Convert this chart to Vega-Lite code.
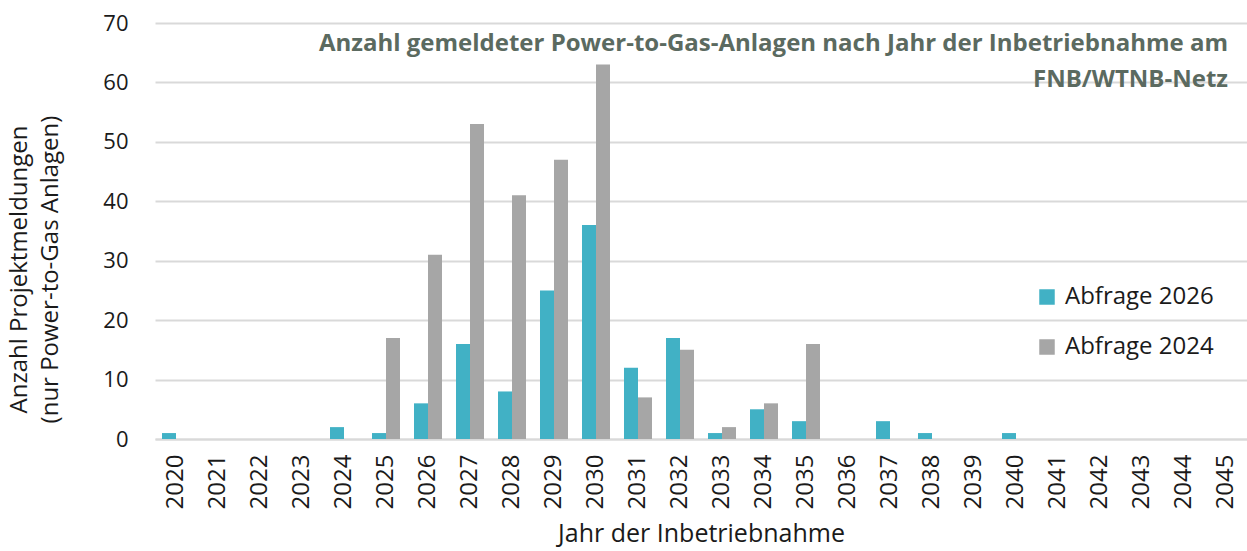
{
  "$schema": "https://vega.github.io/schema/vega-lite/v6.json",
  "width": 1092,
  "height": 416,
  "autosize": {"type": "none"},
  "padding": {"left": 155, "top": 23, "right": 0, "bottom": 112},
  "background": "white",
  "config": {
    "font": "Open Sans",
    "view": {"stroke": null}
  },
  "title": {
    "text": ["Anzahl gemeldeter Power-to-Gas-Anlagen nach Jahr der Inbetriebnahme am", "FNB/WTNB-Netz"],
    "orient": "top",
    "anchor": "end",
    "frame": "group",
    "align": "right",
    "baseline": "top",
    "offset": 0,
    "dy": 80,
    "dx": -19,
    "font": "Open Sans",
    "fontSize": 24,
    "fontWeight": "bold",
    "color": "#5b6a60",
    "lineHeight": 36
  },
  "data": {
    "values": [
      {"jahr": "2020", "serie": "Abfrage 2026", "anzahl": 1},
      {"jahr": "2020", "serie": "Abfrage 2024", "anzahl": 0},
      {"jahr": "2021", "serie": "Abfrage 2026", "anzahl": 0},
      {"jahr": "2021", "serie": "Abfrage 2024", "anzahl": 0},
      {"jahr": "2022", "serie": "Abfrage 2026", "anzahl": 0},
      {"jahr": "2022", "serie": "Abfrage 2024", "anzahl": 0},
      {"jahr": "2023", "serie": "Abfrage 2026", "anzahl": 0},
      {"jahr": "2023", "serie": "Abfrage 2024", "anzahl": 0},
      {"jahr": "2024", "serie": "Abfrage 2026", "anzahl": 2},
      {"jahr": "2024", "serie": "Abfrage 2024", "anzahl": 0},
      {"jahr": "2025", "serie": "Abfrage 2026", "anzahl": 1},
      {"jahr": "2025", "serie": "Abfrage 2024", "anzahl": 17},
      {"jahr": "2026", "serie": "Abfrage 2026", "anzahl": 6},
      {"jahr": "2026", "serie": "Abfrage 2024", "anzahl": 31},
      {"jahr": "2027", "serie": "Abfrage 2026", "anzahl": 16},
      {"jahr": "2027", "serie": "Abfrage 2024", "anzahl": 53},
      {"jahr": "2028", "serie": "Abfrage 2026", "anzahl": 8},
      {"jahr": "2028", "serie": "Abfrage 2024", "anzahl": 41},
      {"jahr": "2029", "serie": "Abfrage 2026", "anzahl": 25},
      {"jahr": "2029", "serie": "Abfrage 2024", "anzahl": 47},
      {"jahr": "2030", "serie": "Abfrage 2026", "anzahl": 36},
      {"jahr": "2030", "serie": "Abfrage 2024", "anzahl": 63},
      {"jahr": "2031", "serie": "Abfrage 2026", "anzahl": 12},
      {"jahr": "2031", "serie": "Abfrage 2024", "anzahl": 7},
      {"jahr": "2032", "serie": "Abfrage 2026", "anzahl": 17},
      {"jahr": "2032", "serie": "Abfrage 2024", "anzahl": 15},
      {"jahr": "2033", "serie": "Abfrage 2026", "anzahl": 1},
      {"jahr": "2033", "serie": "Abfrage 2024", "anzahl": 2},
      {"jahr": "2034", "serie": "Abfrage 2026", "anzahl": 5},
      {"jahr": "2034", "serie": "Abfrage 2024", "anzahl": 6},
      {"jahr": "2035", "serie": "Abfrage 2026", "anzahl": 3},
      {"jahr": "2035", "serie": "Abfrage 2024", "anzahl": 16},
      {"jahr": "2036", "serie": "Abfrage 2026", "anzahl": 0},
      {"jahr": "2036", "serie": "Abfrage 2024", "anzahl": 0},
      {"jahr": "2037", "serie": "Abfrage 2026", "anzahl": 3},
      {"jahr": "2037", "serie": "Abfrage 2024", "anzahl": 0},
      {"jahr": "2038", "serie": "Abfrage 2026", "anzahl": 1},
      {"jahr": "2038", "serie": "Abfrage 2024", "anzahl": 0},
      {"jahr": "2039", "serie": "Abfrage 2026", "anzahl": 0},
      {"jahr": "2039", "serie": "Abfrage 2024", "anzahl": 0},
      {"jahr": "2040", "serie": "Abfrage 2026", "anzahl": 1},
      {"jahr": "2040", "serie": "Abfrage 2024", "anzahl": 0},
      {"jahr": "2041", "serie": "Abfrage 2026", "anzahl": 0},
      {"jahr": "2041", "serie": "Abfrage 2024", "anzahl": 0},
      {"jahr": "2042", "serie": "Abfrage 2026", "anzahl": 0},
      {"jahr": "2042", "serie": "Abfrage 2024", "anzahl": 0},
      {"jahr": "2043", "serie": "Abfrage 2026", "anzahl": 0},
      {"jahr": "2043", "serie": "Abfrage 2024", "anzahl": 0},
      {"jahr": "2044", "serie": "Abfrage 2026", "anzahl": 0},
      {"jahr": "2044", "serie": "Abfrage 2024", "anzahl": 0},
      {"jahr": "2045", "serie": "Abfrage 2026", "anzahl": 0},
      {"jahr": "2045", "serie": "Abfrage 2024", "anzahl": 0}
    ]
  },
  "mark": {"type": "bar"},
  "encoding": {
    "x": {
      "field": "jahr",
      "type": "ordinal",
      "scale": {"paddingInner": 0.3333, "paddingOuter": 0.1667},
      "axis": {
        "title": "Jahr der Inbetriebnahme",
        "titleFont": "Open Sans",
        "titleFontSize": 25,
        "titleFontWeight": "normal",
        "titleColor": "#1a1a1a",
        "titlePadding": 13,
        "labelAngle": -90,
        "labelFont": "Open Sans",
        "labelFontSize": 24,
        "labelColor": "#1a1a1a",
        "labelPadding": 15,
        "ticks": false,
        "domainColor": "#d9d9d9",
        "domainWidth": 2,
        "grid": false
      }
    },
    "xOffset": {"field": "serie", "type": "nominal", "sort": ["Abfrage 2026", "Abfrage 2024"]},
    "y": {
      "field": "anzahl",
      "type": "quantitative",
      "scale": {"domain": [0, 70]},
      "axis": {
        "values": [0, 10, 20, 30, 40, 50, 60, 70],
        "title": ["Anzahl Projektmeldungen", "(nur Power-to-Gas Anlagen)"],
        "titleFont": "Open Sans",
        "titleFontSize": 24,
        "titleFontWeight": "normal",
        "titleColor": "#1a1a1a",
        "titleLineHeight": 31,
        "titlePadding": 40,
        "titleY": 246,
        "labelFont": "Open Sans",
        "labelFontSize": 22,
        "labelColor": "#1a1a1a",
        "labelPadding": 27,
        "ticks": false,
        "domain": false,
        "gridColor": "#d9d9d9",
        "gridWidth": 2
      }
    },
    "color": {
      "field": "serie",
      "type": "nominal",
      "sort": ["Abfrage 2026", "Abfrage 2024"],
      "scale": {"domain": ["Abfrage 2026", "Abfrage 2024"], "range": ["#41b1c5", "#a6a6a6"]},
      "legend": {
        "title": null,
        "orient": "none",
        "legendX": 880,
        "legendY": 262,
        "symbolType": "square",
        "symbolSize": 240,
        "symbolStrokeWidth": 0,
        "labelFont": "Open Sans",
        "labelFontSize": 24,
        "labelColor": "#1a1a1a",
        "rowPadding": 26,
        "labelOffset": 6
      }
    }
  }
}
